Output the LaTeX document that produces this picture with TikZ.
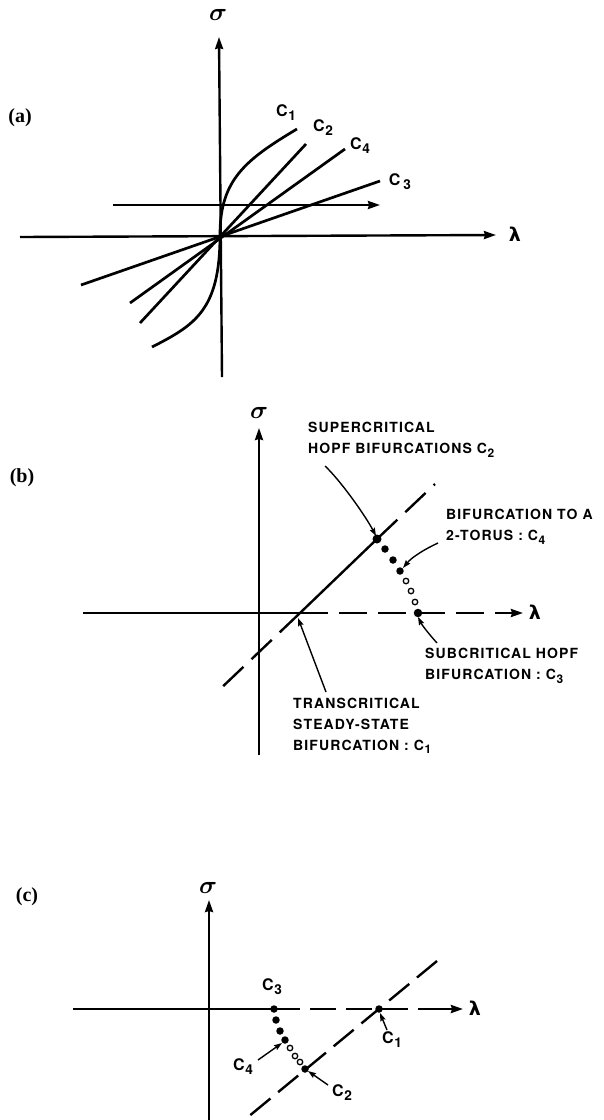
\documentclass[tikz,border=0pt]{standalone}
\usepackage{fontspec}
\setmainfont{TeX Gyre Heros}
\newfontfamily\capsfont[LetterSpace=8]{TeX Gyre Heros}
\newfontfamily\panelfont{Liberation Serif}
\newfontfamily\greekfont{DejaVu Sans}
\usepackage{graphicx}
\usetikzlibrary{arrows.meta, positioning, calc}

% curve name with lowered index, as lettered in the figure
\newcommand{\csub}[1]{C\kern0.6pt\raisebox{-0.45ex}{\scalebox{0.85}{#1}}}

\tikzset{
  axis/.style={line width=2.4pt, -{Stealth[length=12pt,width=8pt,inset=1pt]}},
  curve/.style={line width=2.7pt},
  solidline/.style={line width=2.4pt},
  dashline/.style={line width=2.4pt, dash pattern=on 28pt off 11pt},
  pointer/.style={line width=1.4pt, -{Stealth[length=8pt,width=5.5pt,inset=1pt]}},
  caps/.style={font=\fontsize{14}{21}\selectfont\capsfont\bfseries, align=left, inner sep=0pt, anchor=west},
  clabel/.style={font=\fontsize{16}{18}\selectfont\bfseries, inner sep=0pt},
  panel/.style={font=\fontsize{20}{22}\selectfont\panelfont\bfseries, inner sep=0pt},
  sigmalabel/.style={font=\fontsize{24}{26}\selectfont\boldmath, inner sep=0pt},
  lambdalabel/.style={font=\fontsize{19}{21}\selectfont\greekfont\bfseries, inner sep=0pt},
  fdot/.style={circle, fill, inner sep=0pt, minimum size=7.5pt},
  odot/.style={circle, draw, line width=1.3pt, inner sep=0pt, minimum size=5.5pt},
}

\begin{document}
\begin{tikzpicture}[x=1pt,y=-1pt]
  \useasboundingbox (0,0) rectangle (604,1120);

  % ---------------- (a) ----------------
  \node[panel] (labA) at (20,118) {(a)};
  \coordinate (aO) at (220,235);
  \coordinate (aTop) at (219,37);   \coordinate (aBot) at (222,377);
  \coordinate (aLeft) at (20,237);  \coordinate (aRight) at (496,235);
  \coordinate (aPathL) at (113,205); \coordinate (aPathR) at (380,205);
  \draw[axis] (aBot) -- (aTop);
  \draw[axis] (aLeft) -- (aRight);
  \draw[axis] (aPathL) -- (aPathR);
  \node[sigmalabel] (aSig) at (218,15) {$\sigma$};
  \node[lambdalabel] (aLam) at (515,234) {λ};
  % the four critical curves through the origin
  \draw[curve] (152,347) .. controls (195,325) and (220,310) .. (aO)
               .. controls (220,180) and (245,160) .. (297,129);
  \draw[curve] (140,323) -- (306,144);
  \draw[curve] (130,303) -- (345,149);
  \draw[curve] (81,285) -- (380,181);
  \node[clabel] (aC1) at (286,113) {\csub{1}};
  \node[clabel] (aC2) at (323,128) {\csub{2}};
  \node[clabel] (aC4) at (360,146) {\csub{4}};
  \node[clabel] (aC3) at (400,182) {C\kern3pt\raisebox{-0.45ex}{\scalebox{0.85}{3}}};

  % ---------------- (b) ----------------
  \node[panel] (labB) at (22,478) {(b)};
  \coordinate (bO) at (259,613);
  \coordinate (bTop) at (259,428);  \coordinate (bBot) at (259,755);
  \coordinate (bLeft) at (83,613);  \coordinate (bRight) at (523,613);
  \coordinate (bTC) at (300,613);   % transcritical point
  \coordinate (bHopf) at (377,539); % supercritical Hopf point
  \coordinate (bSub) at (418,613);  % subcritical Hopf point
  \coordinate (bTor) at (400,571);  % torus point
  \draw[axis] (bBot) -- (bTop);
  \draw[solidline] (bLeft) -- (bTC);
  \draw[dashline] (bTC) -- (508,613);
  \draw[axis] (500,613) -- (bRight);
  \draw[dashline] (bTC) -- (217,692);
  \draw[solidline] (bTC) -- (bHopf);
  \draw[dashline] (bHopf) -- (435,484);
  \node[sigmalabel] (bSig) at (259,413) {$\sigma$};
  \node[lambdalabel] (bLam) at (535,612) {λ};
  \node[fdot, minimum size=9pt] (bD0) at (bHopf) {};
  \foreach \x/\y in {385/549, 393/560, 400/571}
    \node[fdot] at (\x,\y) {};
  \foreach \x/\y in {406/581, 411/591, 415/602}
    \node[odot] at (\x,\y) {};
  \node[fdot, minimum size=8.5pt] (bD7) at (bSub) {};
  % labels with pointers
  \node[caps] (bSupTxt) at (308,440) {SUPERCRITICAL\\HOPF BIFURCATIONS \csub{2}};
  \node[caps] (bTorTxt) at (446,527) {BIFURCATION TO A\\2-TORUS : \csub{4}};
  \node[caps] (bSubTxt) at (425,666) {SUBCRITICAL HOPF\\BIFURCATION : \csub{3}};
  \node[caps] (bTCTxt) at (293,726) {TRANSCRITICAL\\STEADY-STATE\\BIFURCATION : \csub{1}};
  \coordinate (bSupArr) at (325,466);
  \coordinate (bTorArr) at (438,543);
  \coordinate (bSubArr) at (437,643);
  \coordinate (bTCArr) at (326,692);
  \draw[pointer] (bSupArr) .. controls (340,480) and (365,515) .. ($(bHopf)+(-1,-3)$);
  \draw[pointer] (bTorArr) .. controls (425,549) and (412,557) .. ($(bTor)+(3,-3)$);
  \draw[pointer] (bSubArr) .. controls (428,633) and (422,625) .. ($(bSub)+(0,4)$);
  \draw[pointer] (bTCArr) -- ($(bTC)+(-2,5)$);

  % ---------------- (c) ----------------
  \node[panel] (labC) at (27,897) {(c)};
  \coordinate (cO) at (209,1009);
  \coordinate (cTop) at (209,900);  \coordinate (cBot) at (209,1120);
  \coordinate (cLeft) at (73,1009); \coordinate (cRight) at (463,1009);
  \coordinate (cC3) at (274,1009);
  \coordinate (cC4) at (285,1040);
  \coordinate (cC2) at (305,1069);
  \coordinate (cC1) at (379,1009);
  \draw[axis] (cBot) -- (cTop);
  \draw[solidline] (cLeft) -- (cC3);
  \draw[dashline, dash pattern=on 26pt off 10pt] (cC3) -- (447,1009);
  \draw[axis] (440,1009) -- (cRight);
  \draw[dashline, dash pattern=on 26pt off 10pt] (437,961) -- (248,1117);
  \node[sigmalabel] (cSig) at (208,888) {$\sigma$};
  \node[lambdalabel] (cLam) at (475,1008) {λ};
  \foreach \x/\y in {274/1009, 276/1020, 280/1031, 285/1040}
    \node[fdot] at (\x,\y) {};
  \foreach \x/\y in {290/1048, 295/1056, 300/1062}
    \node[odot] at (\x,\y) {};
  \node[fdot] (cX2) at (cC2) {};
  \node[fdot] (cX1) at (cC1) {};
  \node[clabel] (cL3) at (272,987) {\csub{3}};
  \node[clabel] (cL4) at (243,1067) {\csub{4}};
  \node[clabel] (cL2) at (342,1093) {\csub{2}};
  \node[clabel] (cL1) at (392,1040) {\csub{1}};
  \coordinate (cA4) at (258,1060);
  \coordinate (cA2) at (328,1085);
  \coordinate (cA1) at (387,1030);
  \draw[pointer] (cA4) -- ($(cC4)+(-3,3)$);
  \draw[pointer] (cA2) -- ($(cC2)+(3,2)$);
  \draw[pointer] (cA1) -- ($(cC1)+(1,4)$);
\end{tikzpicture}
\end{document}
